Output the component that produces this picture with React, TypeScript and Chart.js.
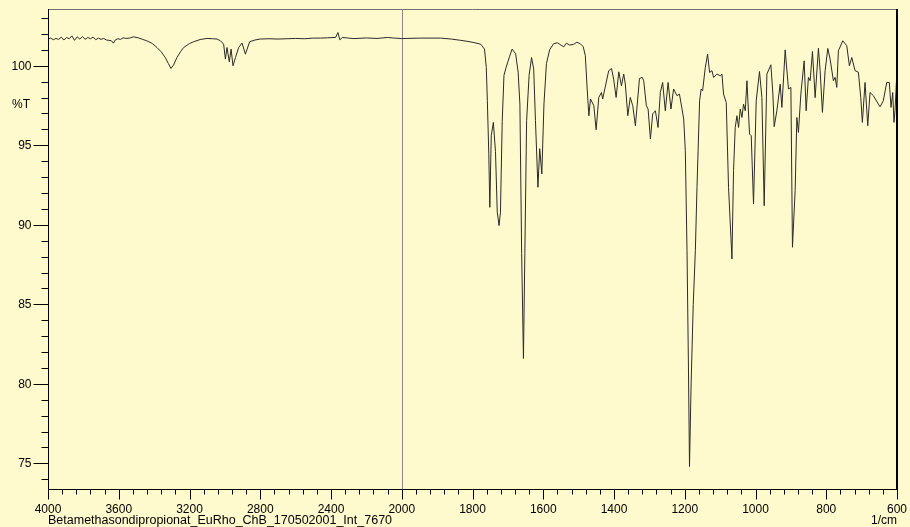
import React, { useEffect, useRef } from 'react';
import { Chart, registerables } from 'chart.js';
Chart.register(...registerables);

// IR spectrum: wavenumber (1/cm) and transmittance (%T)
const WAVENUMBERS = [
  4000, 3985, 3970, 3955, 3940, 3925, 3910, 3895, 3880, 3865, 3850, 3835, 3820, 3805, 3790, 3775, 3760, 3745, 3730, 3715,
  3700, 3685, 3670, 3655, 3640, 3630, 3620, 3605, 3590, 3575, 3560, 3540, 3517, 3490, 3465, 3441, 3410, 3384, 3360, 3337,
  3320, 3305, 3290, 3271, 3250, 3233, 3200, 3177, 3140, 3101, 3070, 3044, 3025, 3007, 2997, 2988, 2975, 2965, 2954, 2940,
  2922, 2903, 2884, 2860, 2830, 2800, 2750, 2700, 2648, 2600, 2550, 2500, 2459, 2420, 2374, 2361, 2350, 2336, 2300, 2270,
  2200, 2140, 2081, 2040, 2000,
  1950, 1890, 1860, 1833, 1810, 1796, 1777, 1766, 1761, 1758, 1754, 1751, 1747, 1741, 1735, 1730, 1725, 1721, 1716, 1711,
  1705, 1695, 1688, 1678, 1671, 1666, 1661, 1656, 1652, 1647, 1640, 1633, 1627, 1622, 1615, 1610, 1604, 1598, 1591, 1582,
  1571, 1560, 1550, 1542, 1535, 1525, 1514, 1505, 1495, 1487, 1481, 1476, 1471, 1466.5, 1457, 1450.5, 1443, 1435.5, 1432, 1426,
  1415, 1407, 1401, 1394, 1386.5, 1379, 1372.5, 1368, 1361, 1354, 1347, 1339.5, 1328, 1320, 1316, 1308.5, 1303.6, 1297, 1290.7, 1283,
  1275.5, 1269, 1262.5, 1255, 1247, 1239, 1231.5, 1222, 1215, 1207.7, 1203, 1198.4, 1193.6, 1189.5, 1186.6, 1182, 1176, 1170, 1165.4, 1158,
  1153.6, 1149.6, 1141.9, 1135.4, 1129.8, 1123, 1118.5, 1109, 1099.6, 1094.8, 1090.3, 1082.7, 1076.2, 1066.6, 1062.1, 1057.3, 1052.5, 1047.9, 1043.1, 1038.3,
  1033.8, 1029, 1024.2, 1016.9, 1012.1, 1005.6, 998, 988.7, 981.9, 975.4, 967.8, 956.5, 950.8, 947.2, 939.6, 930.3, 925.4, 916.1, 906.8, 900,
  895.5, 887.9, 883.1, 878.6, 871.8, 862.5, 856.8, 850.4, 845.5, 839, 831.4, 822.1, 817.3, 810.8, 803.2, 795.6, 789.1, 779.8, 775, 770.2,
  765.7, 753.3, 742, 734.6, 727.8, 718.5, 709.2, 702.4, 697.9, 690.3, 682.7, 676.2, 666.9, 648, 638.7, 629.1, 621.7, 616.9, 612.1, 608.5,
  605.6, 600.8,
];

const TRANSMITTANCE = [
  101.68, 101.74, 101.64, 101.72, 101.66, 101.8, 101.62, 101.78, 101.7, 101.88, 101.6, 101.82, 101.68, 101.84, 101.66, 101.78, 101.7, 101.8, 101.64, 101.74,
  101.66, 101.72, 101.62, 101.6, 101.56, 101.42, 101.62, 101.7, 101.66, 101.76, 101.72, 101.74, 101.82, 101.76, 101.66, 101.57, 101.4, 101.15, 100.88, 100.52,
  100.15, 99.83, 100.05, 100.52, 100.9, 101.15, 101.4, 101.51, 101.65, 101.72, 101.7, 101.68, 101.57, 101.36, 100.42, 101.15, 100.25, 101.05, 100.0, 100.52,
  101.15, 101.43, 100.73, 101.51, 101.62, 101.68, 101.7, 101.68, 101.7, 101.72, 101.7, 101.74, 101.74, 101.76, 101.78, 102.09, 101.63, 101.78, 101.74, 101.71,
  101.75, 101.72, 101.78, 101.74, 101.71,
  101.74, 101.74, 101.68, 101.6, 101.52, 101.46, 101.36, 101.05, 99.89, 97.8, 94.5, 91.1, 95.6, 96.44, 94.6, 90.8, 89.95, 90.8, 96.5, 99.4,
  99.9, 100.6, 101.05, 100.75, 99.6, 97.59, 88.2, 81.6, 88.2, 96.55, 99.4, 100.52, 99.8, 96.55, 92.36, 94.79, 93.2, 97.6, 100.13, 101.0,
  101.38, 101.45, 101.3, 101.19, 101.42, 101.3, 101.35, 101.48, 101.38, 101.2, 100.63, 98.6, 96.86, 97.91, 97.49, 95.98, 98.01, 98.32, 97.91, 98.54,
  99.69, 99.83, 99.16, 98.01, 99.62, 98.74, 99.48, 98.85, 96.86, 98.01, 97.49, 96.23, 99.2, 99.27, 99.06, 97.49, 97.28, 95.4, 96.97, 97.17,
  96.12, 98.32, 98.95, 97.17, 98.95, 97.28, 98.54, 98.12, 98.22, 97.28, 96.65, 94.66, 88.4, 81.0, 74.8, 80.0, 85.0, 88.4, 92.36, 97.8,
  98.54, 98.43, 99.89, 100.73, 99.58, 99.69, 99.27, 99.48, 99.37, 99.48, 98.22, 97.69, 92.36, 87.86, 93.4, 96.12, 96.86, 96.12, 97.28, 96.75,
  97.59, 97.17, 99.06, 95.71, 95.6, 91.31, 97.8, 99.64, 98.0, 91.2, 99.48, 100.06, 98.22, 96.17, 97.17, 98.85, 97.38, 101.0, 98.54, 98.64,
  88.59, 92.15, 96.75, 95.81, 98.22, 100.31, 97.17, 99.27, 99.06, 100.9, 98.0, 101.11, 99.69, 97.07, 99.69, 101.09, 100.42, 99.06, 99.27, 98.64,
  100.94, 101.57, 101.26, 100.0, 100.52, 99.69, 99.6, 98.0, 96.44, 98.95, 96.23, 98.32, 98.12, 97.42, 97.8, 98.95, 98.95, 97.38, 98.32, 96.44,
  97.17, 99.37,
];

const X_TICK_LABELS = [4000, 3600, 3200, 2800, 2400, 2000, 1800, 1600, 1400, 1200, 1000, 800, 600];
const Y_TICK_LABELS = [75, 80, 85, 90, 95, 100];
const Y_MIN = 73.39;
const Y_MAX = 103.57;
const SPLIT_WAVENUMBER = 2000;
const FILE_TITLE = 'Betamethasondipropionat_EuRho_ChB_170502001_Int_7670';
const X_UNIT = '1/cm';
const Y_UNIT = '%T';

// Piecewise (split) IR wavenumber axis: 4000-2000 at half the scale of 2000-600
const toU = (w: number) => (w >= 2000 ? (4000 - w) / 2 : 1000 + (2000 - w));
const U_MAX = toU(600);

const FONT = '12px "Liberation Sans", Arial, sans-serif';
const TITLE_FONT = '12.5px "Liberation Sans", Arial, sans-serif';

const irAxesPlugin = {
  id: 'irAxes',
  beforeDatasetsDraw(chart: any) {
    const { ctx, chartArea: a, scales } = chart;
    const x = scales.x;
    ctx.save();
    ctx.lineWidth = 1;
    ctx.strokeStyle = '#707070';
    ctx.beginPath();
    ctx.moveTo(a.left, Math.round(a.top) + 0.5);
    ctx.lineTo(a.right, Math.round(a.top) + 0.5);
    ctx.stroke();
    ctx.strokeStyle = '#8a8a80';
    const xs = Math.round(x.getPixelForValue(toU(SPLIT_WAVENUMBER))) + 0.5;
    ctx.beginPath();
    ctx.moveTo(xs, a.top);
    ctx.lineTo(xs, a.bottom);
    ctx.stroke();
    ctx.restore();
  },
  afterDraw(chart: any) {
    const { ctx, chartArea: a, scales } = chart;
    const x = scales.x;
    const y = scales.y;
    ctx.save();
    ctx.strokeStyle = '#000';
    ctx.fillStyle = '#000';
    ctx.lineWidth = 1;
    const L = Math.round(a.left) + 0.5;
    const B = Math.round(a.bottom) + 0.5;
    ctx.beginPath();
    ctx.moveTo(L, a.top);
    ctx.lineTo(L, B);
    ctx.lineTo(a.right, B);
    ctx.stroke();
    ctx.lineWidth = 2;
    ctx.beginPath();
    ctx.moveTo(Math.round(a.right), a.top);
    ctx.lineTo(Math.round(a.right), a.bottom + 1);
    ctx.stroke();
    ctx.lineWidth = 1;

    ctx.font = FONT;
    ctx.textAlign = 'right';
    ctx.textBaseline = 'middle';
    for (let v = Math.ceil(Y_MIN); v <= Math.floor(Y_MAX); v++) {
      const py = Math.round(y.getPixelForValue(v)) + 0.5;
      const major = Y_TICK_LABELS.includes(v);
      ctx.beginPath();
      ctx.moveTo(L - (major ? 15 : 7), py);
      ctx.lineTo(L, py);
      ctx.stroke();
      if (major) ctx.fillText(String(v), L - 17, py);
    }
    ctx.fillText(Y_UNIT, 30, Math.round(y.getPixelForValue(97.55)));

    ctx.textAlign = 'center';
    ctx.textBaseline = 'alphabetic';
    for (let u = 0; u <= U_MAX + 0.001; u += 40) {
      const px = Math.round(x.getPixelForValue(u)) + 0.5;
      const major = Math.abs(u % 200) < 0.001;
      ctx.beginPath();
      ctx.moveTo(px, B);
      ctx.lineTo(px, B + (major ? 10 : 5));
      ctx.stroke();
    }
    X_TICK_LABELS.forEach((w) => {
      const px = x.getPixelForValue(toU(w));
      ctx.fillText(String(w), px, B + 23);
    });
    ctx.textAlign = 'right';
    ctx.fillText(X_UNIT, a.right, B + 34);
    ctx.font = TITLE_FONT;
    ctx.textAlign = 'left';
    ctx.fillText(FILE_TITLE, a.left, B + 34);
    ctx.restore();
  },
};

export default function App() {
  const ref = useRef<HTMLCanvasElement | null>(null);
  useEffect(() => {
    document.body.style.margin = '0';
    const canvas = ref.current;
    if (!canvas) return;
    const points = WAVENUMBERS.map((w, i) => ({ x: toU(w), y: TRANSMITTANCE[i] }));
    const chart = new Chart(canvas, {
      type: 'line',
      data: {
        datasets: [
          {
            data: points,
            borderColor: '#2a2a2a',
            borderWidth: 1,
            pointRadius: 0,
            tension: 0,
            fill: false,
          },
        ],
      },
      options: {
        animation: false,
        responsive: false,
        devicePixelRatio: 1,
        layout: { padding: { left: 48, right: 13, top: 9, bottom: 38 } },
        plugins: { legend: { display: false }, tooltip: { enabled: false } },
        scales: {
          x: { type: 'linear', min: 0, max: U_MAX, display: false },
          y: { type: 'linear', min: Y_MIN, max: Y_MAX, display: false },
        },
      },
      plugins: [irAxesPlugin],
    });
    return () => chart.destroy();
  }, []);
  return (
    <div style={{ position: 'absolute', left: 0, top: 0, width: 910, height: 527, background: '#FFFACD' }}>
      <canvas ref={ref} width={910} height={527} style={{ display: 'block' }} />
    </div>
  );
}
